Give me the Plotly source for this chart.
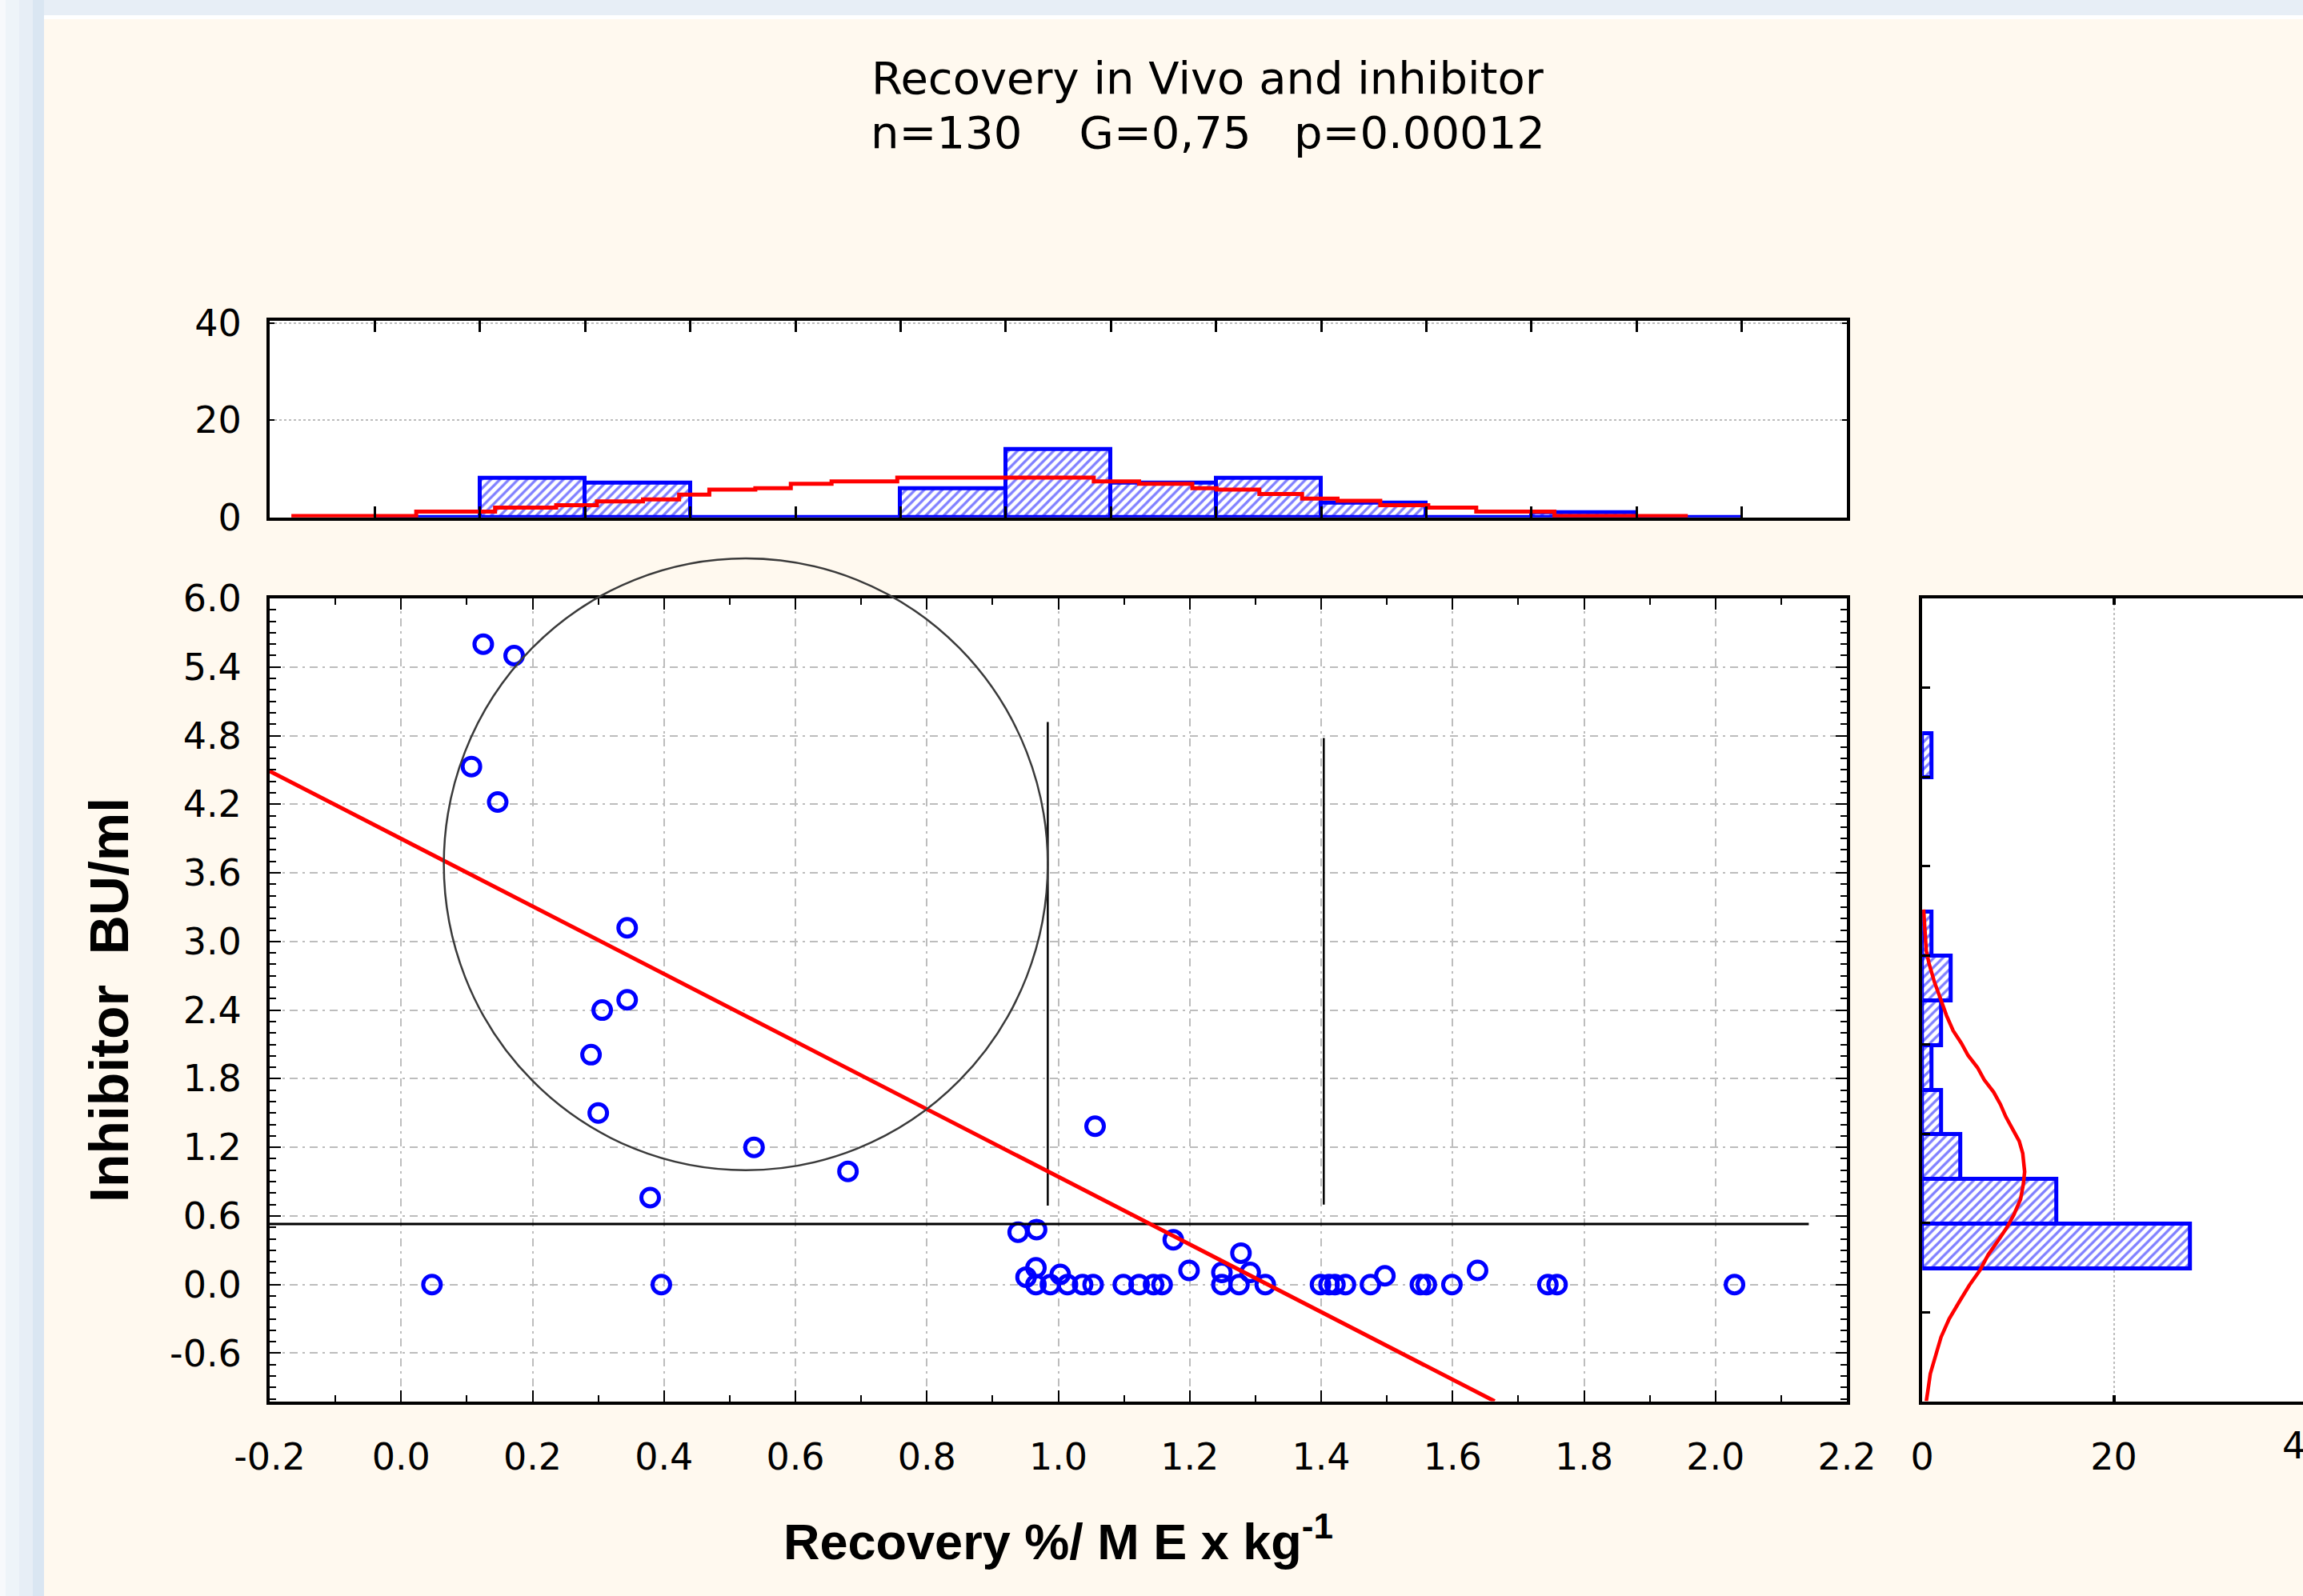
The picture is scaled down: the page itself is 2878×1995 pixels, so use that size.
import plotly.graph_objects as go

W, H = 2878, 1995

# ---------------- data ----------------
scatter_x = [0.125, 0.172, 0.107, 0.147, 0.344, 0.344, 0.306, 0.289, 0.300, 0.537, 0.680, 0.379,
             1.056, 0.047, 0.396,
             0.939, 0.967, 1.175, 1.278,
             0.966, 0.951, 1.003, 1.199, 1.249, 1.292, 1.497, 1.638,
             0.966, 0.988, 1.014, 1.037, 1.053, 1.099, 1.123, 1.145, 1.158, 1.249, 1.275,
             1.315, 1.399, 1.412, 1.421, 1.437, 1.475, 1.551, 1.560, 1.599, 1.745, 1.759, 2.029]
scatter_y = [5.60, 5.50, 4.53, 4.22, 3.12, 2.49, 2.40, 2.01, 1.50, 1.20, 0.99, 0.76,
             1.385, 0.0, 0.0,
             0.458, 0.481, 0.392, 0.275,
             0.147, 0.065, 0.089, 0.124, 0.106, 0.106, 0.077, 0.124,
             0.0, 0.0, 0.0, 0.0, 0.0, 0.0, 0.0, 0.0, 0.0, 0.0, 0.0,
             0.0, 0.0, 0.0, 0.0, 0.0, 0.0, 0.0, 0.0, 0.0, 0.0, 0.0, 0.0]

reg_x = [-0.2, 1.664]
reg_y = [4.49, -1.02]

hline_x = [-0.2, 2.142]
hline_y = [0.53, 0.53]
vline1_x = [0.984, 0.984]
vline1_y = [0.69, 4.92]
vline2_x = [1.404, 1.404]
vline2_y = [0.70, 4.78]

circle_box = [0.065, 1.0, 0.984, 6.35]  # x0, y0, x1, y1

# main axis ticks
x_tick_vals = [-0.2, 0.0, 0.2, 0.4, 0.6, 0.8, 1.0, 1.2, 1.4, 1.6, 1.8, 2.0, 2.2]
x_tick_text = ["-0.2", "0.0", "0.2", "0.4", "0.6", "0.8", "1.0", "1.2", "1.4", "1.6", "1.8", "2.0", "2.2"]
y_tick_vals = [-0.6, 0.0, 0.6, 1.2, 1.8, 2.4, 3.0, 3.6, 4.2, 4.8, 5.4, 6.0]
y_tick_text = ["-0.6", "0.0", "0.6", "1.2", "1.8", "2.4", "3.0", "3.6", "4.2", "4.8", "5.4", "6.0"]

# top histogram (x distribution)
top_bin_centers = [0.04, 0.20, 0.36, 0.52, 0.68, 0.84, 1.00, 1.16, 1.32, 1.48, 1.64, 1.80, 1.96]
top_counts = [0, 8, 7, 0, 0, 6, 14, 7, 8, 3, 0, 1, 0]
top_bin_edges = [-0.04, 0.12, 0.28, 0.44, 0.60, 0.76, 0.92, 1.08, 1.24, 1.40, 1.56, 1.72, 1.88, 2.04]
top_curve_x = [-0.167, 0.023, 0.143, 0.236, 0.298, 0.368, 0.423, 0.469, 0.539, 0.593, 0.655, 0.755,
               1.054, 1.123, 1.204, 1.241, 1.306, 1.371, 1.425, 1.490, 1.563, 1.636, 1.755, 1.958]
top_curve_y = [0.3, 1.2, 2.0, 2.5, 3.3, 3.7, 4.7, 5.7, 6.0, 6.9, 7.4, 8.2,
               7.4, 6.9, 6.0, 5.7, 4.8, 3.85, 3.4, 2.5, 2.0, 1.2, 0.3, 0.3]
top_y_ticks = [0, 20, 40]

# right histogram (y distribution)
right_bin_centers = [0.335, 0.725, 1.115, 1.505, 1.895, 2.285, 2.675, 3.065, 4.625]
right_counts = [28, 14, 4, 2, 1, 2, 3, 1, 1]
right_tick_vals = [-0.24, 0.54, 1.32, 2.10, 2.88, 3.66, 4.44, 5.22]
right_x_ticks = [0, 20, 40]
right_curve_y = [3.28, 2.916, 2.81, 2.648, 2.487, 2.353, 2.219, 2.111, 2.004, 1.897, 1.79, 1.683,
                 1.576, 1.468, 1.361, 1.254, 1.147, 0.986, 0.878, 0.745, 0.61, 0.503, 0.396, 0.262,
                 0.128, -0.006, -0.14, -0.30, -0.46, -0.62, -0.78, -0.944, -1.02]
right_curve_x = [0.14, 0.42, 0.70, 1.26, 1.96, 2.53, 3.23, 4.08, 4.78, 5.77, 6.47, 7.45,
                 8.16, 8.72, 9.42, 10.12, 10.49, 10.69, 10.55, 10.26, 9.56, 8.86, 8.02, 6.89,
                 6.05, 4.92, 3.94, 2.81, 1.96, 1.40, 0.84, 0.56, 0.42]

title_line1 = "Recovery in Vivo and inhibitor"
title_line2 = "n=130\u00a0\u00a0\u00a0\u00a0G=0,75\u00a0\u00a0\u00a0p=0.00012"
x_title = "<b>Recovery %/ M E x kg<sup>-1</sup></b>"
y_title = "<b>Inhibitor\u00a0\u00a0BU/ml</b>"

# ---------------- layout geometry (pixels) ----------------
MAIN_X_PX = (337, 2308)
MAIN_Y_PX = (748, 1751.5)      # top, bottom
TOP_Y_PX = (400.7, 646.7)
RIGHT_X_PX = (2402.2, W)
X_RANGE = [-0.2, 2.2]
Y_RANGE = [-1.02, 6.0]
TOP_Y_RANGE = [0, 40.5]
RIGHT_PX_PER_UNIT = 11.97
RIGHT_X_RANGE = [0, (W - RIGHT_X_PX[0]) / RIGHT_PX_PER_UNIT]


def fx(p):
    return p / W


def fy(p):
    return 1 - p / H


def data_to_paper_x(x):
    px = MAIN_X_PX[0] + (x - X_RANGE[0]) / (X_RANGE[1] - X_RANGE[0]) * (MAIN_X_PX[1] - MAIN_X_PX[0])
    return fx(px)


def data_to_paper_y(y):
    py = MAIN_Y_PX[1] - (y - Y_RANGE[0]) / (Y_RANGE[1] - Y_RANGE[0]) * (MAIN_Y_PX[1] - MAIN_Y_PX[0])
    return fy(py)


TICKFONT = dict(family="DejaVu Sans", size=46, color="black")
BLUE = "#0000FF"
RED = "#FF0000"
GRID = "#BDBDBD"
DASH = "10px,6px,3px,6px"

fig = go.Figure()

# main scatter
fig.add_trace(go.Scatter(
    x=scatter_x, y=scatter_y, mode="markers", xaxis="x", yaxis="y",
    marker=dict(symbol="circle-open", size=22, color=BLUE, line=dict(width=5, color=BLUE)),
    showlegend=False, hoverinfo="skip"))

for lx, ly, w in [(hline_x, hline_y, 3), (vline1_x, vline1_y, 2.5), (vline2_x, vline2_y, 2.5)]:
    fig.add_trace(go.Scatter(x=lx, y=ly, mode="lines", xaxis="x", yaxis="y",
                             line=dict(color="black", width=w), showlegend=False, hoverinfo="skip"))

fig.add_trace(go.Scatter(x=reg_x, y=reg_y, mode="lines", xaxis="x", yaxis="y",
                         line=dict(color=RED, width=5), showlegend=False, hoverinfo="skip"))

# top histogram
HATCH = dict(shape="/", fgcolor=BLUE, bgcolor="white", size=8, solidity=0.4)
fig.add_trace(go.Bar(
    x=top_bin_centers, y=top_counts, width=0.16, xaxis="x2", yaxis="y2",
    marker=dict(color="white", line=dict(color=BLUE, width=5), pattern=HATCH),
    showlegend=False, hoverinfo="skip"))
fig.add_trace(go.Scatter(x=top_curve_x, y=top_curve_y, mode="lines", line_shape="hv",
                         xaxis="x2", yaxis="y2", line=dict(color=RED, width=5),
                         showlegend=False, hoverinfo="skip"))

# right histogram
fig.add_trace(go.Bar(
    y=right_bin_centers, x=right_counts, orientation="h", width=0.39, xaxis="x3", yaxis="y3",
    marker=dict(color="white", line=dict(color=BLUE, width=5), pattern=HATCH),
    showlegend=False, hoverinfo="skip"))
fig.add_trace(go.Scatter(x=right_curve_x, y=right_curve_y, mode="lines",
                         xaxis="x3", yaxis="y3", line=dict(color=RED, width=4.5),
                         showlegend=False, hoverinfo="skip"))

axis_common = dict(showline=True, linecolor="black", linewidth=4, zeroline=False,
                   tickcolor="black", tickfont=TICKFONT, ticks="inside", automargin=False)

fig.update_layout(
    width=W, height=H,
    margin=dict(l=0, r=0, t=0, b=0, autoexpand=False),
    paper_bgcolor="#FFF9EF",
    plot_bgcolor="white",
    bargap=0,
    xaxis=dict(axis_common, domain=[fx(MAIN_X_PX[0]), fx(MAIN_X_PX[1])], range=X_RANGE,
               anchor="y", tickvals=x_tick_vals, ticktext=x_tick_text, ticklen=14, tickwidth=2,
               mirror="allticks", showgrid=True, gridcolor=GRID, gridwidth=2, griddash=DASH,
               ticklabelstandoff=26,
               minor=dict(dtick=0.1, tick0=0, ticks="inside", ticklen=8, tickcolor="black",
                          tickwidth=2, showgrid=False)),
    yaxis=dict(axis_common, domain=[fy(MAIN_Y_PX[1]), fy(MAIN_Y_PX[0])], range=Y_RANGE,
               anchor="x", tickvals=y_tick_vals, ticktext=y_tick_text, ticklen=14, tickwidth=2,
               mirror="allticks", showgrid=True, gridcolor=GRID, gridwidth=2, griddash=DASH,
               ticklabelstandoff=22,
               minor=dict(dtick=0.1, tick0=0, ticks="inside", ticklen=8, tickcolor="black",
                          tickwidth=2, showgrid=False)),
    xaxis2=dict(axis_common, domain=[fx(MAIN_X_PX[0]), fx(MAIN_X_PX[1])], range=X_RANGE,
                anchor="y2", tickvals=top_bin_edges, showticklabels=False, ticklen=14,
                tickwidth=3, mirror="allticks", showgrid=False),
    yaxis2=dict(axis_common, domain=[fy(TOP_Y_PX[1]), fy(TOP_Y_PX[0])], range=TOP_Y_RANGE,
                anchor="x2", tickvals=top_y_ticks, ticklen=6, tickwidth=2, mirror="allticks",
                showgrid=True, gridcolor=GRID, gridwidth=2, griddash="dot",
                ticklabelstandoff=22),
    xaxis3=dict(axis_common, domain=[fx(RIGHT_X_PX[0]), 1.0], range=RIGHT_X_RANGE,
                anchor="y3", tickvals=right_x_ticks, ticklen=8, tickwidth=4, mirror="allticks",
                showgrid=True, gridcolor=GRID, gridwidth=2, griddash="dot",
                ticklabelstandoff=26),
    yaxis3=dict(axis_common, domain=[fy(MAIN_Y_PX[1]), fy(MAIN_Y_PX[0])], range=Y_RANGE,
                anchor="x3", tickvals=right_tick_vals, showticklabels=False, ticklen=10,
                tickwidth=3, mirror=False, showgrid=False),
)

# background decoration of the page
bg_shapes = [
    dict(type="rect", xref="paper", yref="paper", x0=0, x1=1, y0=fy(19), y1=1,
         fillcolor="#E7EEF6", line_width=0, layer="below"),
    dict(type="rect", xref="paper", yref="paper", x0=fx(55), x1=1, y0=fy(24), y1=fy(19),
         fillcolor="#FFFFFF", line_width=0, layer="below"),
]
left_cols = [(0, 7, "#F7F9FC"), (7, 24, "#EEF4F9"), (24, 41, "#E7EEF6"), (41, 55, "#DAE6F2")]
for a, b, c in left_cols:
    bg_shapes.append(dict(type="rect", xref="paper", yref="paper", x0=fx(a), x1=fx(b), y0=0, y1=1,
                          fillcolor=c, line_width=0, layer="below"))

circle_shape = dict(type="circle", xref="paper", yref="paper",
                    x0=data_to_paper_x(circle_box[0]), y0=data_to_paper_y(circle_box[1]),
                    x1=data_to_paper_x(circle_box[2]), y1=data_to_paper_y(circle_box[3]),
                    line=dict(color="#3A3A3A", width=2.5), layer="above")
fig.update_layout(shapes=bg_shapes + [circle_shape])

# texts ("40" tick of the right histogram lies just past the page edge, as in the original)
x40_px = RIGHT_X_PX[0] + right_x_ticks[2] * RIGHT_PX_PER_UNIT
fig.update_layout(annotations=[
    dict(text=title_line1, xref="paper", yref="paper", x=fx(1509), y=fy(97),
         xanchor="center", yanchor="middle", showarrow=False,
         font=dict(family="DejaVu Sans", size=56, color="black")),
    dict(text=title_line2, xref="paper", yref="paper", x=fx(1509), y=fy(166),
         xanchor="center", yanchor="middle", showarrow=False,
         font=dict(family="DejaVu Sans", size=56, color="black")),
    dict(text=x_title, xref="paper", yref="paper", x=fx(1322), y=fy(1922),
         xanchor="center", yanchor="middle", showarrow=False,
         font=dict(family="Liberation Sans", size=63, color="black")),
    dict(text=y_title, xref="paper", yref="paper", x=fx(136), y=fy(1250),
         xanchor="center", yanchor="middle", textangle=-90, showarrow=False,
         font=dict(family="Liberation Sans", size=68, color="black")),
    dict(text=str(right_x_ticks[2]), xref="paper", yref="paper", x=fx(x40_px), y=fy(1807),
         xanchor="center", yanchor="middle", showarrow=False, font=TICKFONT),
])

fig.write_html("out.html")
